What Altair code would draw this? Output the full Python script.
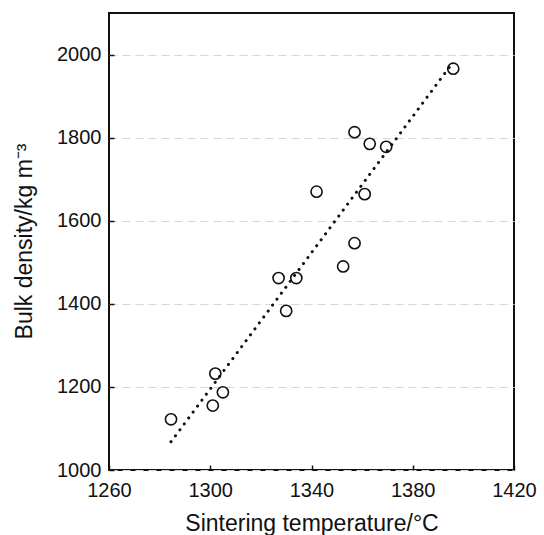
import altair as alt
import pandas as pd

temps = [1396, 1357, 1363, 1369.5, 1342, 1361, 1357, 1352.5, 1327, 1334, 1330, 1302, 1305, 1301, 1284.5]
densities = [1966, 1813, 1785, 1778, 1670, 1664, 1546, 1490, 1462, 1462, 1383, 1232, 1187, 1155, 1122]

fit_x = [1284.5, 1395]
fit_y = [1068, 1974]

x_ticks = [1260, 1300, 1340, 1380, 1420]
y_ticks = [1000, 1200, 1400, 1600, 1800, 2000]

pts = pd.DataFrame({"t": temps, "d": densities})
fit = pd.DataFrame({"t": fit_x, "d": fit_y})

FONT = "Liberation Sans"

xs = alt.Scale(domain=[1260, 1420], nice=False, zero=False)
ys = alt.Scale(domain=[1000, 2100], nice=False, zero=False)

xax = alt.Axis(values=x_ticks, format="d", title="Sintering temperature/°C", grid=False, domain=False,
               offset=-5, tickSize=5, tickWidth=1.5, tickColor="#111", labelPadding=10,
               labelFont=FONT, labelFontSize=20, labelColor="#111",
               titleFont=FONT, titleFontSize=23, titleFontWeight="normal", titleColor="#111",
               titlePadding=12, labelFlush=False)
yax = alt.Axis(values=y_ticks, format="d", title="Bulk density/kg m⁻³", grid=True, gridDash=[8, 5],
               gridColor="#d6d6d6", gridWidth=1.2, domain=False,
               offset=-5, tickSize=5, tickWidth=1.5, tickColor="#111", labelPadding=8,
               labelFont=FONT, labelFontSize=20, labelColor="#111",
               titleFont=FONT, titleFontSize=23, titleFontWeight="normal", titleColor="#111",
               titleY=228, titleX=-78, labelFlush=False)

line = alt.Chart(fit).mark_line(color="#111", strokeWidth=3, strokeCap="round",
                                strokeDash=[0.1, 7.3]).encode(
    x=alt.X("t:Q", scale=xs, axis=xax),
    y=alt.Y("d:Q", scale=ys, axis=yax),
)

points = alt.Chart(pts).mark_point(shape="circle", filled=False, size=125, color="#111",
                                   strokeWidth=1.6, opacity=1).encode(
    x=alt.X("t:Q", scale=xs),
    y=alt.Y("d:Q", scale=ys),
)

chart = alt.layer(line, points).properties(
    width=405, height=457,
    autosize=alt.AutoSizeParams(type="none"),
    padding={"left": 109, "top": 13, "right": 30, "bottom": 65},
).configure_view(stroke="#111", strokeWidth=2)

chart.save("out.html", embed_options={"renderer": "svg", "actions": False})
